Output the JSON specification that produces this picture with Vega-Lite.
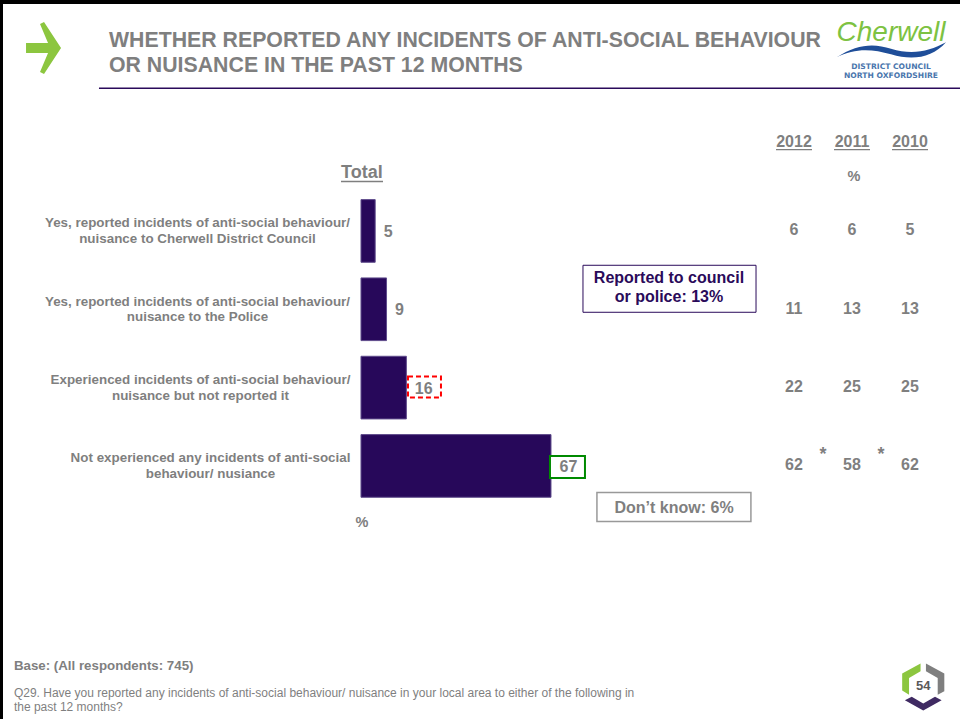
{
"$schema":"https://vega.github.io/schema/vega-lite/v6.json",
"width":960,"height":719,"padding":0,"autosize":"none","background":"white",
"config":{"view":{"stroke":null},"font":"Liberation Sans","text":{"font":"Liberation Sans","fontWeight":"bold","color":"#7f7f7f","fontSize":16,"lineBreak":"\n"},"axisX":{"disable":true},"axisY":{"grid":false}},
"title":{"text":["WHETHER REPORTED ANY INCIDENTS OF ANTI-SOCIAL BEHAVIOUR","OR NUISANCE IN THE PAST 12 MONTHS"],"anchor":"start","frame":"group","dx":109,"offset":-80,"fontSize":21.3,"lineHeight":25,"font":"Liberation Sans","fontWeight":"bold","color":"#7f7f7f"},
"resolve":{"scale":{"x":"independent"}},
"layer":[
{"layer":[
{"data":{"values":[
{"category":"Yes, reported incidents of anti-social behaviour/\nnuisance to Cherwell District Council","value":5},
{"category":"Yes, reported incidents of anti-social behaviour/\nnuisance to the Police","value":9},
{"category":"Experienced incidents of anti-social behaviour/\nnuisance but not reported it","value":16},
{"category":"Not experienced any incidents of anti-social\nbehaviour/ nusiance","value":67}]},
"layer":[
{"mark":{"type":"bar","color":"#27085a","stroke":"#5f4c8c","strokeWidth":1},
"encoding":{"x":{"field":"value","type":"quantitative","scale":{"domain":[-127.3,211.23],"nice":false,"zero":false}},
"y":{"field":"category","type":"nominal","scale":{"domain":["head-2","head-1","Yes, reported incidents of anti-social behaviour/\nnuisance to Cherwell District Council","Yes, reported incidents of anti-social behaviour/\nnuisance to the Police","Experienced incidents of anti-social behaviour/\nnuisance but not reported it","Not experienced any incidents of anti-social\nbehaviour/ nusiance","below-1","below-2","below-3"],"range":[35.1,740.1],"paddingInner":0.2,"paddingOuter":0.1},
"axis":{"orient":"left","offset":-197,"title":null,"ticks":false,"domain":false,"grid":false,"labelAlign":"center","labelPadding":0,"labelOffset":-7.5,"labelFont":"Liberation Sans","labelFontWeight":"bold","labelFontSize":13.4,"labelColor":"#7f7f7f","labelLineHeight":15.5,"labelLimit":400,"labelBound":false,"labelOverlap":false,
"values":["Yes, reported incidents of anti-social behaviour/\nnuisance to Cherwell District Council","Yes, reported incidents of anti-social behaviour/\nnuisance to the Police","Experienced incidents of anti-social behaviour/\nnuisance but not reported it","Not experienced any incidents of anti-social\nbehaviour/ nusiance"],
"labelExpr":"split(datum.label,'\\n')",
"encoding":{"labels":{"dx":{"condition":[{"test":"datum.value[0]=='E'","value":3},{"test":"datum.value[0]=='N'","value":13}],"value":0}}}}}}}
]},
{"data":{"values":[{"kind":"frame"}]},"mark":{"type":"rule","color":"#000000","strokeWidth":6},"encoding":{"x":{"datum":-127.3,"type":"quantitative"}}},
{"data":{"values":[{"kind":"frame"}]},"mark":{"type":"rule","color":"#000000","strokeWidth":8,"yOffset":-74.3},"encoding":{"y":{"datum":"head-2","type":"nominal"}}},
{"data":{"values":[{"kind":"header rule"}]},"mark":{"type":"rule","color":"#2a0a5a","strokeWidth":1.3,"yOffset":14},"encoding":{"x":{"datum":-92.4,"type":"quantitative"},"x2":{"datum":211.23},"y":{"datum":"head-2","type":"nominal"}}},
{"data":{"values":[{"kind":"arrow"}]},"mark":{"type":"point","filled":true,"opacity":1,"color":"#8cc63f","size":2704,"yOffset":-26.3,"shape":"M-.135,-.923 L.019,-1 L.673,0 L.019,1 L-.135,.923 L.173,.192 L-.673,.192 L-.673,-.192 L.173,-.192 Z"},"encoding":{"x":{"datum":-111.95,"type":"quantitative"},"y":{"datum":"head-2","type":"nominal"}}},
{"data":{"values":[{"text":"Cherwell"}]},"mark":{"type":"text","font":"Liberation Sans","fontStyle":"italic","fontWeight":"normal","color":"#7dc242","fontSize":28,"align":"center","yOffset":-41.5},"encoding":{"text":{"field":"text"},"x":{"datum":186.9,"type":"quantitative"},"y":{"datum":"head-2","type":"nominal"}}},
{"data":{"values":[{"kind":"wave"}]},"mark":{"type":"point","filled":true,"opacity":1,"color":"#1f4e99","size":12100,"yOffset":-24.3,"shape":"M-1,.14 C-.6,-.12 -.3,-.12 0,-.02 C.4,.1 .7,.02 1,-.14 C.75,.14 .4,.2 0,.08 C-.35,-.02 -.65,-.04 -1,.14 Z"},"encoding":{"x":{"datum":186.9,"type":"quantitative"},"y":{"datum":"head-2","type":"nominal"}}},
{"data":{"values":[{"text":"DISTRICT COUNCIL\nNORTH OXFORDSHIRE"}]},"mark":{"type":"text","font":"DejaVu Sans","color":"#4a76ad","fontSize":7.6,"lineHeight":9,"align":"center","yOffset":-7},"encoding":{"text":{"field":"text"},"x":{"datum":186.9,"type":"quantitative"},"y":{"datum":"head-2","type":"nominal"}}},
{"data":{"values":[{"text":"Total"}]},"mark":{"type":"text","fontSize":18,"align":"center","yOffset":20},"encoding":{"text":{"field":"text"},"x":{"datum":0.3,"type":"quantitative"},"y":{"datum":"head-1","type":"nominal"}}},
{"data":{"values":[{"kind":"underline"}]},"mark":{"type":"rule","color":"#7f7f7f","strokeWidth":1.5,"yOffset":29},"encoding":{"x":{"datum":-7.05,"type":"quantitative"},"x2":{"datum":7.76},"y":{"datum":"head-1","type":"nominal"}}},
{"data":{"values":[{"text":"%"}]},"mark":{"type":"text","fontSize":14.5,"align":"center","yOffset":-21},"encoding":{"text":{"field":"text"},"x":{"datum":0.3,"type":"quantitative"},"y":{"datum":"below-1","type":"nominal"}}},
{"data":{"values":[{"kind":"box"}]},"mark":{"type":"rect","fill":"white","stroke":"#ff0000","strokeWidth":2,"strokeDash":[5,3],"height":21,"yOffset":-0.5},"encoding":{"x":{"datum":16.57,"type":"quantitative"},"x2":{"datum":28.2},"y":{"datum":"Experienced incidents of anti-social behaviour/\nnuisance but not reported it","type":"nominal"}}},
{"data":{"values":[{"kind":"box"}]},"mark":{"type":"rect","fill":"white","stroke":"#008a00","strokeWidth":2,"height":22,"yOffset":1},"encoding":{"x":{"datum":66.64,"type":"quantitative"},"x2":{"datum":78.98},"y":{"datum":"Not experienced any incidents of anti-social\nbehaviour/ nusiance","type":"nominal"}}},
{"data":{"values":[
{"category":"Yes, reported incidents of anti-social behaviour/\nnuisance to Cherwell District Council","value":5},
{"category":"Yes, reported incidents of anti-social behaviour/\nnuisance to the Police","value":9},
{"category":"Experienced incidents of anti-social behaviour/\nnuisance but not reported it","value":16},
{"category":"Not experienced any incidents of anti-social\nbehaviour/ nusiance","value":67}]},
"mark":{"type":"text","align":"left","dx":8.5,"yOffset":1,"fontSize":16},"encoding":{"text":{"field":"value","type":"quantitative"},"x":{"field":"value","type":"quantitative"},"y":{"field":"category","type":"nominal"}}},
{"data":{"values":[{"kind":"box"}]},"mark":{"type":"rect","fill":"white","stroke":"#2a0a5a","strokeWidth":1,"height":47,"yOffset":-20.5},"encoding":{"x":{"datum":78.28,"type":"quantitative"},"x2":{"datum":139.3},"y":{"datum":"Yes, reported incidents of anti-social behaviour/\nnuisance to the Police","type":"nominal"}}},
{"data":{"values":[{"text":"Reported to council\nor police: 13%"}]},"mark":{"type":"text","color":"#2a0a5a","fontSize":16,"lineHeight":19,"align":"center","yOffset":-31},"encoding":{"text":{"field":"text"},"x":{"datum":108.6,"type":"quantitative"},"y":{"datum":"Yes, reported incidents of anti-social behaviour/\nnuisance to the Police","type":"nominal"}}},
{"data":{"values":[{"kind":"box"}]},"mark":{"type":"rect","fill":"white","stroke":"#999999","strokeWidth":1.5,"height":29,"yOffset":41},"encoding":{"x":{"datum":83.2,"type":"quantitative"},"x2":{"datum":137.5},"y":{"datum":"Not experienced any incidents of anti-social\nbehaviour/ nusiance","type":"nominal"}}},
{"data":{"values":[{"text":"Don’t know: 6%"}]},"mark":{"type":"text","fontSize":16,"align":"center","yOffset":42},"encoding":{"text":{"field":"text"},"x":{"datum":110.4,"type":"quantitative"},"y":{"datum":"Not experienced any incidents of anti-social\nbehaviour/ nusiance","type":"nominal"}}},
{"data":{"values":[{"text":"Base: (All respondents: 745)"}]},"mark":{"type":"text","fontSize":13.3,"align":"left","yOffset":-35},"encoding":{"text":{"field":"text"},"x":{"datum":-122.4,"type":"quantitative"},"y":{"datum":"below-3","type":"nominal"}}},
{"data":{"values":[{"text":"Q29. Have you reported any incidents of anti-social behaviour/ nuisance in your local area to either of the following in\nthe past 12 months?"}]},"mark":{"type":"text","fontWeight":"normal","fontSize":12,"lineHeight":14,"align":"left","yOffset":-8.4},"encoding":{"text":{"field":"text"},"x":{"datum":-122.4,"type":"quantitative"},"y":{"datum":"below-3","type":"nominal"}}},
{"data":{"values":[{"kind":"badge"}]},"mark":{"type":"point","filled":true,"opacity":1,"color":"#8cc63f","size":2401,"yOffset":-13.9,"shape":"M-.86,-.55 L-.11,-.96 L-.11,-.64 L-.58,-.37 L-.58,.31 L-.86,.14 Z"},"encoding":{"x":{"datum":198.27,"type":"quantitative"},"y":{"datum":"below-3","type":"nominal"}}},
{"data":{"values":[{"kind":"badge"}]},"mark":{"type":"point","filled":true,"opacity":1,"color":"#7f7f7f","size":2401,"yOffset":-13.9,"shape":"M.11,-.96 L.86,-.55 L.86,.17 L.59,.31 L.59,-.37 L.11,-.64 Z"},"encoding":{"x":{"datum":198.27,"type":"quantitative"},"y":{"datum":"below-3","type":"nominal"}}},
{"data":{"values":[{"kind":"badge"}]},"mark":{"type":"point","filled":true,"opacity":1,"color":"#3f2a62","size":2401,"yOffset":-13.9,"shape":"M-.75,.54 L-.47,.40 L0,.67 L.48,.40 L.75,.54 L0,.96 Z"},"encoding":{"x":{"datum":198.27,"type":"quantitative"},"y":{"datum":"below-3","type":"nominal"}}},
{"data":{"values":[{"text":"54"}]},"mark":{"type":"text","fontSize":13,"color":"#595959","align":"center","yOffset":-15},"encoding":{"text":{"field":"text"},"x":{"datum":198.27,"type":"quantitative"},"y":{"datum":"below-3","type":"nominal"}}}
]},
{"layer":[
{"data":{"values":[
{"category":"Yes, reported incidents of anti-social behaviour/\nnuisance to Cherwell District Council","year":"2012","value":6},
{"category":"Yes, reported incidents of anti-social behaviour/\nnuisance to Cherwell District Council","year":"2011","value":6},
{"category":"Yes, reported incidents of anti-social behaviour/\nnuisance to Cherwell District Council","year":"2010","value":5},
{"category":"Yes, reported incidents of anti-social behaviour/\nnuisance to the Police","year":"2012","value":11},
{"category":"Yes, reported incidents of anti-social behaviour/\nnuisance to the Police","year":"2011","value":13},
{"category":"Yes, reported incidents of anti-social behaviour/\nnuisance to the Police","year":"2010","value":13},
{"category":"Experienced incidents of anti-social behaviour/\nnuisance but not reported it","year":"2012","value":22},
{"category":"Experienced incidents of anti-social behaviour/\nnuisance but not reported it","year":"2011","value":25},
{"category":"Experienced incidents of anti-social behaviour/\nnuisance but not reported it","year":"2010","value":25},
{"category":"Not experienced any incidents of anti-social\nbehaviour/ nusiance","year":"2012","value":62},
{"category":"Not experienced any incidents of anti-social\nbehaviour/ nusiance","year":"2011","value":58},
{"category":"Not experienced any incidents of anti-social\nbehaviour/ nusiance","year":"2010","value":62}]},
"mark":{"type":"text","fontSize":16,"align":"center","yOffset":-0.5},
"encoding":{"text":{"field":"value","type":"quantitative"},"x":{"field":"year","type":"ordinal","scale":{"type":"point","domain":["2012","2011","2010"],"range":[794,910],"padding":0}},"y":{"field":"category","type":"nominal"}}},
{"data":{"values":[{"year":"2012","flag":"*"},{"year":"2011","flag":"*"}]},
"mark":{"type":"text","fontSize":18,"align":"center","xOffset":29,"yOffset":-11},
"encoding":{"text":{"field":"flag"},"x":{"field":"year","type":"ordinal"},"y":{"datum":"Not experienced any incidents of anti-social\nbehaviour/ nusiance","type":"nominal"}}},
{"data":{"values":[{"year":"2012"},{"year":"2011"},{"year":"2010"}]},
"mark":{"type":"text","fontSize":16,"align":"center","yOffset":-10.7},
"encoding":{"text":{"field":"year"},"x":{"field":"year","type":"ordinal"},"y":{"datum":"head-1","type":"nominal"}}},
{"data":{"values":[{"year":"2012"},{"year":"2011"},{"year":"2010"}]},
"mark":{"type":"rule","color":"#7f7f7f","strokeWidth":1.3,"xOffset":-18,"x2Offset":18,"yOffset":-3},
"encoding":{"x":{"field":"year","type":"ordinal"},"x2":{"field":"year"},"y":{"datum":"head-1","type":"nominal"}}},
{"data":{"values":[{"year":"2011","text":"%"}]},
"mark":{"type":"text","fontSize":14.5,"align":"center","xOffset":2,"yOffset":24},
"encoding":{"text":{"field":"text"},"x":{"field":"year","type":"ordinal"},"y":{"datum":"head-1","type":"nominal"}}}
]}
]
}
